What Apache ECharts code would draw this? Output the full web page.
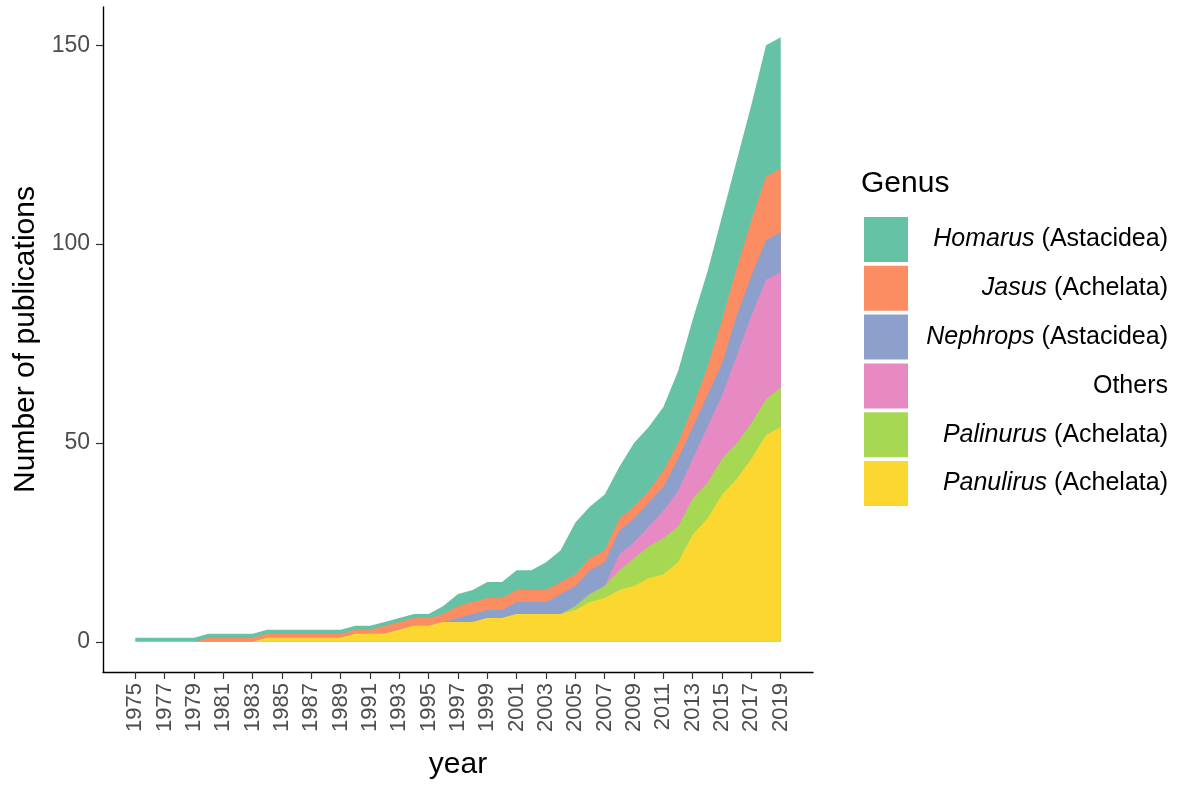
<!DOCTYPE html>
<html>
<head>
<meta charset="utf-8">
<script src="https://cdn.jsdelivr.net/npm/echarts@6/dist/echarts.min.js"></script>
<style>
html,body{margin:0;padding:0;background:#ffffff;}
#chart{width:1179px;height:785px;}
</style>
</head>
<body>
<div id="chart"></div>
<script>
// ---- data (cumulative publications per genus) ----
const years = [1975,1976,1977,1978,1979,1980,1981,1982,1983,1984,1985,1986,1987,1988,1989,1990,1991,1992,1993,1994,1995,1996,1997,1998,1999,2000,2001,2002,2003,2004,2005,2006,2007,2008,2009,2010,2011,2012,2013,2014,2015,2016,2017,2018,2019];
const panulirus = [0,0,0,0,0,0,0,0,0,1,1,1,1,1,1,2,2,2,3,4,4,5,5,5,6,6,7,7,7,7,8,10,11,13,14,16,17,20,27,31,37,41,46,52,54];
const palinurus = [0,0,0,0,0,0,0,0,0,0,0,0,0,0,0,0,0,0,0,0,0,0,0,0,0,0,0,0,0,0,1,2,3,5,7,8,9,9,9,9,9,9,9,9,10];
const others    = [0,0,0,0,0,0,0,0,0,0,0,0,0,0,0,0,0,0,0,0,0,0,0,0,0,0,0,0,0,0,0,0,0,4,4,5,7,9,10,14,16,22,27,30,29];
const nephrops  = [0,0,0,0,0,0,0,0,0,0,0,0,0,0,0,0,0,0,0,0,0,0,1,2,2,2,3,3,3,5,5,6,6,6,6,6,6,8,8,8,8,10,10,10,10];
const jasus     = [0,0,0,0,0,1,1,1,1,1,1,1,1,1,1,1,1,2,2,2,2,2,3,3,3,3,3,3,3,3,3,3,3,3,3,3,4,4,5,7,11,12,14,16,16];
const homarus   = [1,1,1,1,1,1,1,1,1,1,1,1,1,1,1,1,1,1,1,1,1,2,3,3,4,4,5,5,7,8,13,13,14,13,16,16,16,18,22,24,26,27,29,33,33];

const xTickYears = [1975,1977,1979,1981,1983,1985,1987,1989,1991,1993,1995,1997,1999,2001,2003,2005,2007,2009,2011,2013,2015,2017,2019];
const yTicks = [0,50,100,150];

// stacking order bottom -> top
const layers = [
  {name:'Panulirus (Achelata)', genus:'Panulirus', rest:' (Achelata)', values:panulirus, color:'#FCD72F'},
  {name:'Palinurus (Achelata)', genus:'Palinurus', rest:' (Achelata)', values:palinurus, color:'#A6D854'},
  {name:'Others', genus:null, rest:'Others', values:others, color:'#E78AC3'},
  {name:'Nephrops (Astacidea)', genus:'Nephrops', rest:' (Astacidea)', values:nephrops, color:'#8DA0CB'},
  {name:'Jasus (Achelata)', genus:'Jasus', rest:' (Achelata)', values:jasus, color:'#FC8D62'},
  {name:'Homarus (Astacidea)', genus:'Homarus', rest:' (Astacidea)', values:homarus, color:'#66C2A5'}
];

// cumulative tops
const running = years.map(() => 0);
layers.forEach(l => {
  l.top = years.map((y, i) => { running[i] += l.values[i]; return running[i]; });
});

const FONT = '"Liberation Sans", Arial, Helvetica, sans-serif';

// draw top layer first so lower layers paint over it
const series = layers.slice().reverse().map(l => ({
  name: l.name,
  type: 'line',
  data: years.map((y, i) => [y, l.top[i]]),
  color: l.color,
  itemStyle: {color: l.color},
  lineStyle: {width: 0, color: l.color},
  areaStyle: {color: l.color, opacity: 1},
  symbol: 'none',
  showSymbol: false,
  smooth: false,
  silent: true,
  emphasis: {disabled: true}
}));

const legendNames = layers.slice().reverse().map(l => l.name);
const byName = {};
layers.forEach(l => byName[l.name] = l);

const chart = echarts.init(document.getElementById('chart'), null, {renderer: 'canvas'});
chart.setOption({
  animation: false,
  backgroundColor: '#ffffff',
  textStyle: {fontFamily: FONT},
  title: {
    text: 'Genus',
    left: 861, top: 169, padding: 0,
    textStyle: {fontFamily: FONT, fontSize: 30, fontWeight: 'normal', color: '#000000'}
  },
  legend: {
    orient: 'vertical',
    left: 864, top: 217, padding: 0,
    itemWidth: 44, itemHeight: 45, itemGap: 3.8,
    icon: 'rect',
    selectedMode: false,
    data: legendNames,
    formatter: function (n) {
      const l = byName[n];
      if (!l.genus) return '{n|' + l.rest + '}';
      return '{i|' + l.genus + '}{n|' + l.rest + '}';
    },
    textStyle: {
      fontFamily: FONT, fontSize: 25, color: '#000000', width: 255,
      rich: {
        i: {fontFamily: FONT, fontSize: 25, fontStyle: 'italic', color: '#000000', align: 'right'},
        n: {fontFamily: FONT, fontSize: 25, color: '#000000', align: 'right'}
      }
    }
  },
  grid: {left: 103, right: 366, top: 7, bottom: 113, containLabel: false},
  xAxis: {
    type: 'value',
    min: 1972.8, max: 2021.2,
    name: 'year',
    nameLocation: 'middle',
    nameGap: 78,
    nameTextStyle: {fontFamily: FONT, fontSize: 30, color: '#000000'},
    axisLine: {show: true, onZero: false, lineStyle: {color: '#000000', width: 1.4}},
    axisTick: {show: true, customValues: xTickYears, length: 7, lineStyle: {color: '#333333', width: 1.2}},
    axisLabel: {
      customValues: xTickYears, rotate: 90, margin: 11,
      fontFamily: FONT, fontSize: 22, color: '#4D4D4D',
      formatter: v => String(v)
    },
    splitLine: {show: false}
  },
  yAxis: {
    type: 'value',
    min: -7.6, max: 159.6,
    name: 'Number of publications',
    nameLocation: 'middle',
    nameGap: 59,
    nameTextStyle: {fontFamily: FONT, fontSize: 30, color: '#000000'},
    axisLine: {show: true, onZero: false, lineStyle: {color: '#000000', width: 1.4}},
    axisTick: {show: true, customValues: yTicks, length: 7, lineStyle: {color: '#333333', width: 1.2}},
    axisLabel: {
      customValues: yTicks, margin: 13,
      fontFamily: FONT, fontSize: 23, color: '#4D4D4D',
      formatter: v => String(v)
    },
    splitLine: {show: false}
  },
  series: series
});
</script>
</body>
</html>
